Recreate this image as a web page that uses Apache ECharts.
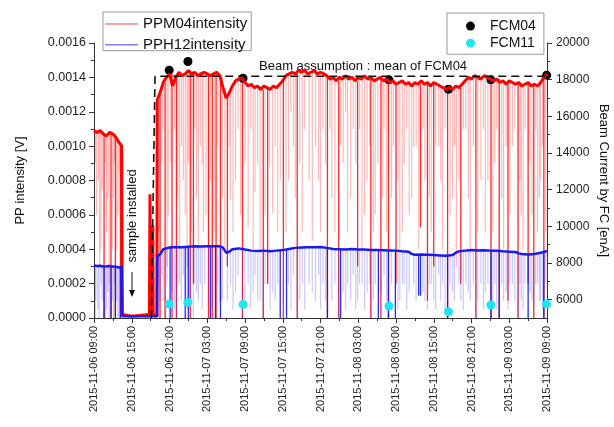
<!DOCTYPE HTML>
<html>
<head>
    <title>PP intensity vs beam current</title>
    <script src="https://cdn.jsdelivr.net/npm/echarts@6.0.0/dist/echarts.min.js"></script>
    <style>
        body { margin: 0; background: #fff; }
    </style>
</head>
<body>
<div id="main" style="width: 614px;height: 427px;"></div>

<script type="text/javascript">

    // hours after 2015-11-06 09:00
    var startTime = Date.UTC(2015, 10, 6, 9, 0);

    // PPM04 intensity level [h, V]
    var redLevel = [
        [0,0.00109],[0.5,0.00108],[1,0.00109],[1.5,0.00107],[2,0.00106],[2.5,0.00108],[3,0.00107],[3.5,0.00105],[4,0.00102],[4.4,0.00100],
        [4.5,0.00002],[6,0.00001],[8.8,0.00002],[8.9,0.00072],[9.0,0.00002],[9.3,0.00002],[9.35,0.00054],[9.4,0.00002],[10.0,0.00001],
        [10.05,0.00127],[10.5,0.00131],[11,0.00137],[11.5,0.00140],[12,0.00142],[12.5,0.00135],[13,0.00140],[13.5,0.00143],[14,0.00141],
        [14.5,0.00142],[15,0.00144],[15.5,0.00142],[16,0.00143],[16.5,0.00141],[17,0.00142],[17.5,0.00143],[18,0.00142],[18.5,0.00141],
        [19,0.00142],[19.5,0.00143],[20,0.00141],[20.5,0.00134],[21,0.00128],[21.5,0.00131],[22,0.00135],[22.5,0.00138],[23,0.00139],
        [23.5,0.00140],[24,0.00137],[24.5,0.00135],[25,0.00136],[25.5,0.00134],[26,0.00135],[26.5,0.00133],[27,0.00135],[27.5,0.00134],
        [28,0.00133],[28.5,0.00135],[29,0.00134],[29.5,0.00136],[30,0.00138],[30.5,0.00141],[31,0.00142],[31.5,0.00143],[32,0.00142],
        [32.5,0.00144],[33,0.00143],[33.5,0.00144],[34,0.00142],[34.5,0.00143],[35,0.00144],[35.5,0.00142],[36,0.00143],[36.5,0.00142],
        [37,0.00141],[37.5,0.00139],[38,0.00140],[38.5,0.00138],[39,0.00140],[39.5,0.00139],[40,0.00141],[40.5,0.00139],[41,0.00140],
        [41.5,0.00138],[42,0.00140],[42.5,0.00139],[43,0.00141],[43.5,0.00139],[44,0.00140],[44.5,0.00138],[45,0.00139],[45.5,0.00140],
        [46,0.00138],[46.5,0.00139],[47,0.00137],[47.5,0.00138],[48,0.00136],[48.5,0.00137],[49,0.00138],[49.5,0.00136],[50,0.00137],
        [50.5,0.00135],[51,0.00137],[51.5,0.00136],[52,0.00138],[52.5,0.00136],[53,0.00137],[53.5,0.00135],[54,0.00137],[54.5,0.00136],
        [55,0.00135],[55.5,0.00134],[56,0.00133],[56.5,0.00134],[57,0.00133],[57.5,0.00135],[58,0.00134],[58.5,0.00136],[59,0.00138],
        [59.5,0.00140],[60,0.00139],[60.5,0.00141],[61,0.00140],[61.5,0.00139],[62,0.00141],[62.5,0.00140],[63,0.00139],[63.5,0.00138],
        [64,0.00139],[64.5,0.00137],[65,0.00138],[65.5,0.00136],[66,0.00138],[66.5,0.00137],[67,0.00136],[67.5,0.00137],[68,0.00135],
        [68.5,0.00136],[69,0.00137],[69.5,0.00135],[70,0.00136],[70.5,0.00135],[71,0.00137],[71.5,0.00140],[72,0.00142]
    ];

    // PPH12 intensity level [h, V]
    var blueLevel = [
        [0,0.000305],[0.5,0.000302],[1,0.000304],[1.5,0.000300],[2,0.000301],[2.5,0.000303],[3,0.000299],[3.5,0.000298],[4,0.000293],
        [4.4,0.000300],[4.5,0.00001],[10.0,0.00001],[10.05,0.00036],[10.5,0.00037],[11,0.00040],[11.5,0.000405],[12,0.00041],[13,0.000413],
        [14,0.000412],[15,0.000415],[16,0.000418],[17,0.000416],[18,0.000418],[19,0.000417],[20,0.000418],[20.5,0.00041],[21,0.00038],
        [21.5,0.000385],[22,0.0004],[23,0.000405],[24,0.000398],[25,0.000392],[26,0.000390],[27,0.000392],[28,0.000388],[29,0.000392],
        [30,0.000395],[31,0.000402],[32,0.000408],[33,0.000410],[34,0.000412],[35,0.000411],[36,0.000413],[37,0.000408],[38,0.000402],
        [39,0.000400],[40,0.000398],[41,0.000401],[42,0.000399],[43,0.000398],[44,0.000396],[45,0.000395],[46,0.000394],[47,0.000393],
        [48,0.000392],[49,0.000388],[50,0.000386],[50.5,0.000372],[51,0.000368],[52,0.000370],[53,0.000368],[54,0.000366],[55,0.000364],
        [56,0.000362],[57,0.000366],[57.5,0.00038],[58,0.000388],[59,0.000392],[60,0.000395],[61,0.000393],[62,0.000394],[63,0.000392],
        [64,0.000391],[65,0.000388],[66,0.000386],[67,0.000384],[67.5,0.000376],[68,0.000372],[69,0.000370],[70,0.000372],[71,0.000380],
        [72,0.000390]
    ];

    // beam-off drops [h, lowest value]
    var redDeepDips = [
        [1.6,0],[2.7,0],[3.4,0],[4.2,0],
        [10.5,0],[11.3,0],[12.4,0],[13.1,0],[15.3,0],[15.8,0.0002],[18.2,0],[18.8,0],[19.4,0],[20.1,0.0001],[21.2,0.0003],
        [23.6,0],[26.9,0],[27.6,0.0002],[30.1,0],[32.3,0],[37.1,0],[38.9,0],[41.9,0.0003],[44.0,0],[45.6,0],[46.8,0],
        [48.0,0.0002],[51.9,0.00053],[53.0,0.0001],[54.0,0.0003],[56.2,0],[58.3,0.0002],[60.7,0],[63.1,0],[64.4,0],
        [65.8,0.0001],[67.4,0],[69.0,0.0002],[69.9,0],[71.5,0]
    ];
    var redFaintDips = [
        [0.2,0.0009],[0.4,0.0006],[0.7,0.0008],[0.9,0.0003],[1.1,0.0004],[1.3,0.00075],[1.8,0.0009],[2.0,0.0005],[2.2,0.0007],
        [2.4,0.0002],[2.9,0.0004],[3.1,0.0007],[3.3,0.0009],[3.6,0.0004],[3.8,0.0006],[4.0,0.00085],[4.3,0.0003],
        [10.3,0.0005],[10.8,0.0009],[11.0,0.0011],[11.6,0.0003],[11.8,0.0006],[12.2,0.0009],[12.8,0.0011],[13.3,0.0007],
        [13.6,0.0004],[13.9,0.0010],[14.2,0.0008],[14.5,0.0006],[14.8,0.0003],[15.0,0.0009],[15.5,0.0005],[16.0,0.0011],
        [16.3,0.0007],[16.6,0.0004],[16.9,0.0010],[17.2,0.0009],[17.4,0.0005],[17.8,0.0006],[18.5,0.0008],[19.1,0.0005],
        [19.7,0.0010],[20.4,0.0007],[20.8,0.0004],[21.5,0.0010],[21.7,0.00069],[22.1,0.0005],[22.5,0.0008],[22.9,0.0011],
        [23.3,0.0006],[24.0,0.0009],[24.5,0.00053],[24.9,0.0011],[25.3,0.0004],[25.6,0.00073],[26.0,0.0009],[26.4,0.00038],
        [27.2,0.0006],[27.9,0.00088],[28.4,0.00061],[28.8,0.0010],[29.2,0.0005],[29.6,0.0008],[30.5,0.0005],[30.9,0.0008],
        [31.3,0.0012],[31.7,0.001],[32.0,0.0007],[32.7,0.0009],[33.1,0.0005],[33.5,0.0011],[34.2,0.0008],[34.7,0.00045],
        [35.2,0.0010],[35.7,0.0008],[36.0,0.0005],[36.4,0.0011],[36.8,0.0009],[37.5,0.0011],[37.8,0.0007],[38.3,0.0005],
        [39.2,0.0010],[39.6,0.0009],[40.0,0.0012],[40.3,0.0005],[40.8,0.0007],[41.2,0.0011],[41.6,0.0009],[42.2,0.0011],
        [42.6,0.0004],[43.0,0.0006],[43.4,0.0008],[43.8,0.0010],[44.4,0.0005],[44.7,0.0006],[45.1,0.0009],[45.9,0.0007],
        [46.1,0.0011],[46.5,0.0005],[47.3,0.0007],[47.6,0.0010],[48.3,0.0008],[48.6,0.0004],[49.0,0.0005],[49.3,0.0009],
        [49.7,0.0011],[50.1,0.0006],[50.5,0.0007],[50.8,0.0010],[51.2,0.0010],[51.6,0.0004],[52.3,0.0011],[52.6,0.0008],
        [53.3,0.0007],[53.6,0.0005],[54.3,0.0010],[54.8,0.001],[55.1,0.0008],[55.4,0.0004],[55.8,0.0011],[56.6,0.0006],
        [57.0,0.0007],[57.3,0.0010],[57.6,0.0003],[58.0,0.0008],[58.7,0.0011],[59.1,0.0011],[59.5,0.0007],[59.8,0.0004],
        [60.3,0.0010],[61.0,0.0005],[61.5,0.0008],[61.9,0.0011],[62.2,0.0005],[62.6,0.0008],[63.4,0.0005],[63.7,0.0009],
        [64.0,0.0011],[64.8,0.0007],[65.1,0.0004],[65.5,0.0010],[66.1,0.0006],[66.5,0.0010],[66.9,0.0011],[67.7,0.0008],
        [67.9,0.0006],[68.2,0.0004],[68.5,0.0011],[69.3,0.0009],[69.6,0.0006],[70.2,0.0011],[70.5,0.0005],[70.8,0.0007],
        [71.0,0.0008],[71.3,0.0010],[71.8,0.0005]
    ];
    var blueDeepDips = [
        [1.6,0],[2.7,0],[3.4,0],[4.2,0],
        [12.1,0],[14.5,0],[15.0,0],[18.5,0],[19.3,0],[20.1,0],[29.6,0],[30.6,0],[37.1,0],[39.2,0],[45.2,0],[46.8,0],
        [47.9,0],[51.6,0.00013],[51.9,0.00013],[56.2,0],[63.1,0],[64.4,0],[69.0,0],[71.5,0]
    ];
    var blueFaintDips = [
        [0.2,0],[0.3,0.0001],[0.6,0.00005],[0.8,0],[1.1,0.0002],[1.3,0.0001],[1.8,0],[2.0,0.00005],[2.2,0.00015],[2.4,0],
        [2.9,0.0001],[3.1,0],[3.3,0.0002],[3.6,0.0001],[3.8,0],[4.0,0],[4.3,0.00015],
        [10.3,0],[10.5,0.0001],[10.8,0.00025],[11.0,0.0001],[11.3,0],[11.6,0.0002],[12.4,0.00015],[12.8,0.00005],[13.1,0],
        [13.3,0.0002],[13.6,0.0002],[13.9,0.0001],[14.2,0.00025],[14.8,0.00005],[15.3,0.0001],[15.8,0],[16.0,0.0002],
        [16.3,0.00015],[16.6,0.0001],[16.9,0.0002],[17.2,0.00005],[17.6,0.0002],[18.2,0.0001],[18.8,0.00005],[19.7,0.0002],
        [20.4,0.0001],[21.2,0.0001],[21.7,0.0002],[22.1,0.00005],[22.5,0.00015],[22.9,0.00025],[23.6,0],[24.0,0.0001],
        [24.5,0.0002],[24.9,0.00005],[25.3,0.00015],[25.6,0.00025],[26.0,0.0001],[26.4,0.0001],[26.9,0],[27.2,0.0002],
        [27.6,0.0002],[28.0,0.00005],[28.4,0.00015],[28.8,0.0001],[29.2,0.0002],[30.1,0.0001],[30.9,0.0002],[31.3,0.00005],
        [31.7,0.00025],[32.3,0],[32.7,0.0001],[33.1,0.0002],[33.5,0.00005],[34.2,0.0002],[34.7,0.00015],[35.2,0.0001],
        [35.7,0.00025],[36.0,0.00005],[36.4,0.0002],[36.8,0.0001],[37.8,0.0001],[38.3,0.0002],[38.9,0],[39.6,0.00015],
        [40.0,0.00005],[40.3,0.0002],[40.8,0.0001],[41.2,0.00025],[41.6,0.00005],[41.9,0.0001],[42.2,0.0002],[42.6,0.0002],
        [43.0,0.00005],[43.4,0.00015],[43.8,0.0002],[44.0,0],[44.4,0.0001],[44.7,0.0002],[45.6,0.00015],[46.1,0.00025],
        [46.5,0.0001],[47.3,0.0002],[48.3,0.00005],[48.6,0.0001],[49.0,0.0002],[49.3,0.0002],[49.7,0.00005],[50.1,0.00015],
        [50.8,0.0002],[51.2,0.0001],[52.3,0.00015],[52.6,0.0001],[53.0,0.00005],[53.3,0.0002],[53.6,0.0002],[54.0,0.0001],
        [54.3,0.00005],[54.8,0.00025],[55.1,0.0001],[55.4,0.0002],[55.8,0.00005],[56.6,0.0002],[57.0,0.00015],[57.3,0.0001],
        [58.0,0.0002],[58.3,0.0001],[58.7,0.00005],[59.1,0.0002],[59.5,0.00015],[59.8,0.0001],[60.3,0.0002],[60.7,0],
        [61.0,0.0001],[61.5,0.0002],[61.9,0.00005],[62.2,0.00015],[62.6,0.0002],[63.4,0.0001],[63.7,0.0002],[64.0,0.00005],
        [64.8,0.0002],[65.1,0.0001],[65.5,0.00015],[65.8,0.00005],[66.1,0.0002],[66.5,0.0002],[66.9,0.0001],[67.4,0],
        [67.7,0.0002],[67.9,0.0001],[68.2,0.00005],[68.5,0.0002],[69.3,0.00015],[69.6,0.0001],[69.9,0.00005],[70.2,0.0002],
        [70.5,0.0002],[70.8,0.0001],[71.0,0.0001],[71.3,0.00005],[71.8,0.0002]
    ];

    // Faraday cup beam current [h, nA]
    var fcm04 = [[11.95,18520],[14.93,18990],[23.69,18080],[46.88,17990],[56.34,17480],[63.08,17990],[71.95,18245]];
    var fcm11 = [[11.95,5760],[14.93,5850],[23.69,5740],[46.88,5650],[56.34,5340],[63.08,5710],[71.95,5760]];

    var beamOn = [9.1, 9.7];   // dashed line rise

    var rightMajor = [6000, 8000, 10000, 12000, 14000, 16000, 18000, 20000];
    var rightMinor = [7000, 9000, 11000, 13000, 15000, 17000, 19000];

    function pad(n) { return n < 10 ? '0' + n : '' + n; }
    function hourLabel(h) {
        var d = new Date(startTime + h * 3600000);
        return d.getUTCFullYear() + '-' + pad(d.getUTCMonth() + 1) + '-' + pad(d.getUTCDate()) +
            ' ' + pad(d.getUTCHours()) + ':' + pad(d.getUTCMinutes());
    }

    function levelAt(level, h) {
        var v = level[0][1];
        for (var i = 0; i < level.length; i++) {
            if (level[i][0] <= h) v = level[i][1];
        }
        return v;
    }

    function dipData(dips, level) {
        return dips.map(function (d) { return [d[0], d[1], levelAt(level, d[0])]; });
    }

    function dipSeries(dips, level, color, width) {
        return {
            type: 'custom',
            silent: true,
            encode: { x: 0, y: [1, 2] },
            data: dipData(dips, level),
            renderItem: function (params, api) {
                var p1 = api.coord([api.value(0), api.value(2)]);
                var p2 = api.coord([api.value(0), api.value(1)]);
                return {
                    type: 'line',
                    shape: { x1: p1[0], y1: p1[1], x2: p2[0], y2: p2[1] },
                    style: { stroke: color, lineWidth: width }
                };
            }
        };
    }

    var fcMean = fcm04.reduce(function (s, p) { return s + p[1]; }, 0) / fcm04.length;
    var beamLine = [[beamOn[0], 5000], [beamOn[1], fcMean], [72, fcMean]];

    var font = '"Liberation Sans", Arial, sans-serif';
    var axisColor = '#333';
    var lineIcon = 'path://M0,0L33,0L33,1.5L0,1.5Z';

    var chart = echarts.init(document.getElementById('main'));

    var option = {
        animation: false,
        textStyle: { fontFamily: font },
        grid: { left: 94, right: 67, top: 43, bottom: 109, outerBoundsMode: 'none', containLabel: false },
        legend: [
            {
                orient: 'vertical', left: 103, top: 12,
                padding: [-1, 4, -7, 2], itemGap: -5,
                itemWidth: 33, itemHeight: 14,
                borderColor: '#999', borderWidth: 1, backgroundColor: '#fff',
                textStyle: { fontSize: 15, lineHeight: 16, color: '#111', fontFamily: font },
                data: [
                    { name: 'PPM04intensity', icon: lineIcon, itemStyle: { color: '#ff8080' } },
                    { name: 'PPH12intensity', icon: lineIcon, itemStyle: { color: '#8080ff' } }
                ]
            },
            {
                orient: 'vertical', left: 447, top: 13,
                padding: [1, 8, -1, 19], itemGap: -7,
                itemWidth: 9, itemHeight: 9, icon: 'circle',
                borderColor: '#999', borderWidth: 1, backgroundColor: '#fff',
                textStyle: { fontSize: 14, lineHeight: 16, color: '#111', fontFamily: font, padding: [0, 0, 0, 10] },
                data: ['FCM04', 'FCM11']
            }
        ],
        xAxis: {
            type: 'value', min: 0, max: 72, interval: 6,
            splitLine: { show: false },
            axisLine: { lineStyle: { color: axisColor, width: 1 } },
            axisTick: { length: 5, lineStyle: { color: axisColor } },
            minorTick: { show: true, splitNumber: 2, length: 3, lineStyle: { color: axisColor } },
            axisLabel: { rotate: 90, fontSize: 11, color: '#222', margin: 8, formatter: hourLabel }
        },
        yAxis: [
            {
                type: 'value', min: 0, max: 0.0016, interval: 0.0002, position: 'left',
                name: 'PP intensity [V]', nameLocation: 'middle', nameGap: 62, nameMoveOverlap: false,
                nameTextStyle: { fontSize: 13, color: '#111' },
                splitLine: { show: false },
                axisLine: { show: true, lineStyle: { color: axisColor } },
                axisTick: { show: true, length: 5, lineStyle: { color: axisColor } },
                minorTick: { show: true, splitNumber: 2, length: 3, lineStyle: { color: axisColor } },
                axisLabel: { fontSize: 12.5, color: '#222', margin: 8, formatter: function (v) { return v.toFixed(4); } }
            },
            {
                type: 'value', min: 5000, max: 20000, interval: 1000, position: 'right',
                name: 'Beam Current by FC [enA]', nameLocation: 'middle', nameGap: 45, nameRotate: -90, nameMoveOverlap: false,
                nameTextStyle: { fontSize: 13, color: '#111' },
                splitLine: { show: false },
                axisLine: { show: true, lineStyle: { color: axisColor } },
                axisTick: { show: true, length: 5, customValues: rightMajor, lineStyle: { color: axisColor } },
                axisLabel: { fontSize: 12, color: '#222', margin: 9, customValues: rightMajor,
                    formatter: function (v) { return String(v); } }
            },
            {
                type: 'value', min: 5000, max: 20000, interval: 1000, position: 'right',
                splitLine: { show: false },
                axisLine: { show: false },
                axisTick: { show: true, length: 3, customValues: rightMinor, lineStyle: { color: axisColor } },
                axisLabel: { show: false }
            }
        ],
        series: [
            dipSeries(redFaintDips, redLevel, 'rgba(255,0,0,0.28)', 1.2),
            dipSeries(redDeepDips, redLevel, 'rgba(255,0,0,0.85)', 1.3),
            {
                name: 'PPM04intensity', type: 'line', data: redLevel,
                showSymbol: false, symbol: 'none',
                lineStyle: { color: '#ff0000', width: 3 },
                itemStyle: { color: '#ff0000' }
            },
            dipSeries(blueFaintDips, blueLevel, 'rgba(40,40,255,0.25)', 1.2),
            dipSeries(blueDeepDips, blueLevel, 'rgba(20,20,240,0.9)', 1.3),
            {
                name: 'PPH12intensity', type: 'line', data: blueLevel,
                showSymbol: false, symbol: 'none',
                lineStyle: { color: '#1a1aee', width: 2.5 },
                itemStyle: { color: '#1a1aee' }
            },
            {
                type: 'line', yAxisIndex: 1, data: beamLine, silent: true,
                showSymbol: false, symbol: 'none',
                lineStyle: { color: '#111', width: 1.6, type: [8, 5] }
            },
            {
                name: 'FCM04', type: 'scatter', yAxisIndex: 1, data: fcm04,
                symbolSize: 9, itemStyle: { color: '#000', opacity: 1 }
            },
            {
                name: 'FCM11', type: 'scatter', yAxisIndex: 1, data: fcm11,
                symbolSize: 9, itemStyle: { color: '#1ee6f0', opacity: 1 }
            }
        ],
        graphic: [
            {
                type: 'text', left: 259, top: 55, z: 10,
                style: { text: 'Beam assumption : mean of FCM04', fontSize: 13, fill: '#111', font: '13px ' + font }
            },
            {
                type: 'text', x: 132, y: 216, rotation: Math.PI / 2, z: 10,
                style: { text: 'sample installed', fontSize: 13, fill: '#111', font: '13px ' + font,
                    align: 'center', verticalAlign: 'middle' }
            },
            {
                type: 'line', z: 10,
                shape: { x1: 132, y1: 272, x2: 132, y2: 292 },
                style: { stroke: '#111', lineWidth: 1 }
            },
            {
                type: 'polygon', z: 10,
                shape: { points: [[129, 290], [135, 290], [132, 297]] },
                style: { fill: '#111' }
            }
        ]
    };

    chart.setOption(option);

</script>
</body>
</html>
